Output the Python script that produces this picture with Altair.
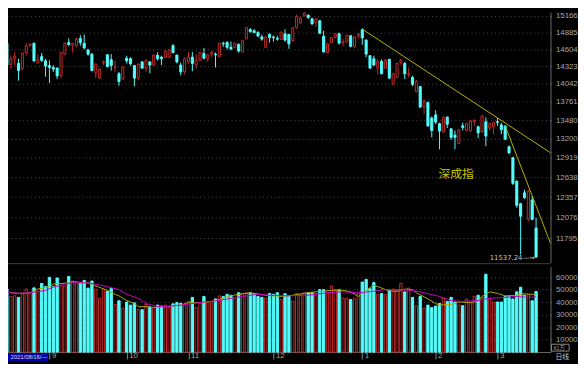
import altair as alt
import pandas as pd

# ---------------- data ----------------
opens = [14766,14703,14356,14447,14371,14285,14549,14662,14703,14381,14482,14412,14336,14306,14295,14171,14523,14713,14672,14662,
         14781,14703,14590,14523,14220,14135,14381,14512,14432,14306,14205,14120,14457,14447,14336,14135,14396,14295,14396,14345,
         14503,14472,14467,14472,14662,14508,14345,14235,14396,14472,14345,14421,14533,14447,14523,14523,14482,14703,14719,14636,
         14636,14682,14558,14776,14933,14912,14885,14807,14636,14849,14807,14781,14766,14860,14849,14744,14964,15043,15166,15177,
         15113,15054,15081,14818,14549,14713,14807,14860,14708,14729,14828,14642,14828,14928,14755,14497,14447,14295,14406,14295,
         14437,14036,14145,14386,14371,14195,14145,13922,14000,13680,13752,13512,13560,13427,13300,13526,13347,13252,13127,13393,
         13323,13323,13455,13379,13304,13455,13360,13379,13455,13407,13389,13081,12920,12580,12265,12417,12051,12317,11933]
highs = [14807,14744,14497,14558,14447,14558,14703,14703,14713,14518,14543,14447,14421,14345,14306,14558,14713,14786,14713,14797,
         14838,14849,14610,14538,14371,14295,14421,14523,14523,14421,14235,14330,14497,14472,14345,14371,14406,14437,14406,14518,
         14553,14497,14590,14610,14688,14512,14386,14472,14558,14558,14523,14558,14626,14523,14574,14549,14713,14729,14729,14729,
         14713,14703,14755,14975,14954,14938,14901,14849,14818,14870,14833,14828,14901,14938,14860,14975,15187,15150,15230,15187,
         15134,15123,15091,14912,14703,14807,14870,14880,14781,14849,14838,14818,14870,14954,14766,14508,14497,14437,14437,14447,
         14447,14220,14381,14447,14396,14295,14171,14105,14010,13800,13762,13536,13631,13441,13536,13536,13360,13323,13347,13441,
         13441,13488,13493,13393,13560,13522,13441,13455,13512,13441,13403,13099,12930,12593,12278,12461,12461,12373,12072]
lows = [14662,14306,14285,14345,14095,14255,14497,14642,14396,14371,14396,14156,14055,14235,14120,14135,14497,14651,14549,14642,
        14662,14600,14497,14245,14135,14120,14345,14306,14255,14235,14015,14105,14371,14336,14006,14105,14285,14235,14210,14336,
        14421,14345,14457,14457,14533,14371,14180,14195,14371,14245,14285,14406,14437,14396,14472,14306,14472,14642,14600,14600,
        14620,14549,14549,14766,14880,14870,14807,14744,14620,14713,14729,14744,14755,14729,14610,14729,14948,15027,15150,15113,
        15017,14980,14860,14549,14538,14703,14781,14682,14651,14713,14636,14626,14780,14677,14472,14290,14330,14195,14195,14280,
        14120,14020,14135,14345,14120,14145,14006,13907,13666,13570,13379,13220,13417,13044,13286,13360,13183,13044,13118,13323,
        13314,13300,13393,13206,13286,13090,13323,13267,13393,13267,13180,12972,12527,12209,11582,12330,12021,12038,11537.24]
closes = [14693,14345,14447,14488,14255,14538,14662,14688,14412,14432,14421,14330,14306,14280,14171,14549,14703,14682,14697,14771,
          14713,14626,14523,14255,14361,14280,14396,14320,14336,14315,14080,14315,14412,14366,14135,14356,14295,14421,14345,14508,
          14447,14447,14574,14595,14549,14396,14235,14447,14472,14371,14417,14549,14457,14508,14558,14512,14703,14693,14636,14605,
          14703,14574,14744,14964,14896,14880,14822,14771,14807,14797,14797,14771,14885,14755,14693,14964,15150,15123,15214,15134,
          15027,15113,14870,14558,14693,14797,14860,14703,14729,14833,14651,14807,14860,14792,14523,14295,14345,14406,14205,14417,
          14135,14205,14371,14421,14205,14205,14036,14085,13680,13776,13393,13323,13450,13314,13522,13417,13220,13220,13333,13370,
          13427,13465,13474,13286,13541,13239,13427,13441,13446,13333,13192,12990,12550,12243,12093,12352,12439,12051,11548]
volumes = [47037,50518,44593,45037,43852,47556,50518,47556,51481,48765,54938,52469,59877,52469,59383,52963,52963,60617,56914,56173,
           54938,57407,51259,56914,50518,43111,50000,48765,50988,38148,41111,35185,40123,37654,39383,33951,33951,38148,36173,35679,
           37654,36914,37654,35679,38642,39630,39136,37654,40617,43852,35679,39383,44593,40123,39383,42593,45037,44593,46296,45556,
           43852,47556,46790,47556,47556,46790,44593,43852,43358,47037,46296,47556,42099,46790,45037,40864,47037,46296,47556,47556,
           47556,47037,50000,50000,47556,52963,50000,50000,43333,43333,42099,43111,47037,56173,58148,50741,55679,46296,47037,46296,
           49259,50518,50000,54938,48272,51259,43852,37160,44593,35185,37654,35679,36914,38889,43111,40617,43852,40123,37654,37160,
           42593,40123,44593,45556,43852,62346,43111,40123,40123,40123,44593,44593,42593,48272,51975,45556,46296,41111,48519]

# volume moving-average lines (read at selected candles)
ma5_i = [0,2,5,7,9,12,13,17,18,22,24,27,29,30,32,34,35,37,39,42,46,48,52,54,56,58,61,64,68,72,
         75,80,83,85,88,90,92,94,96,98,100,102,104,106,107,110,112,113,116,118,121,123,124,126,128,130,133,135,136,138]
ma5_v = [48763,47528,46787,47528,50492,52466,54441,55430,56418,55430,52960,49503,46294,45059,41356,38887,36418,36418,35677,36418,
         37652,39627,39627,40615,42097,44566,46294,47528,45553,44566,45553,48022,48763,49503,49503,48269,44566,49503,53701,51231,
         48763,48763,50492,49997,47528,42590,38887,37652,38146,40121,39627,40615,44566,48269,47034,45059,45553,46787,46294,46294]
ma10_i = [0,2,5,7,11,13,16,18,22,24,27,30,32,35,37,40,42,46,49,52,56,59,63,66,69,74,79,84,88,92,
          96,99,102,106,109,113,116,119,123,126,130,133,136,138]
ma10_v = [48022,47528,47034,47528,49503,51972,54441,55677,55430,54441,52466,49997,46294,43084,38887,36418,36418,37652,38887,40121,
          41356,43084,45059,46294,45553,45059,45553,47528,48269,47528,48763,49997,49997,49503,47528,44566,41356,40615,41356,43084,
          43824,44566,43824,44319]

# trend lines (candle index, price)
trend_id = ["a", "a", "b", "b"]
trend_i = [93, 141.73, 130, 141.73]
trend_p = [14939, 12992, 13393, 11730]

price_ticks = [15166,14885,14604,14323,14042,13761,13480,13200,12919,12638,12357,12076,11795]
vol_ticks = [10000,20000,30000,40000,50000,60000]
month_pos = [12,32,48,70,93,112,128]
month_txt = ["9","10","11","12","1","2","3"]

# ---------------- chart ----------------
W, HP, HV = 558, 255, 87
CYAN = "#54fcfc"; RED = "#c42a2a"; BG = "#000000"
GRID = "#4a4a4a"; LABEL = "#a8a8a8"; AXIS = "#6a6a6a"

n = len(opens)
candles = pd.DataFrame({"i": list(range(n)), "open": opens, "high": highs,
                        "low": lows, "close": closes, "vol": volumes})
ma5 = pd.DataFrame({"i": ma5_i, "v": ma5_v})
ma10 = pd.DataFrame({"i": ma10_i, "v": ma10_v})
trend = pd.DataFrame({"id": trend_id, "i": trend_i, "p": trend_p})

xscale = alt.Scale(domain=[-0.254, 141.73], nice=False, zero=False)
pscale = alt.Scale(type="log", domain=[11475, 15230], nice=False, zero=False)
vscale = alt.Scale(domain=[0, 68500], nice=False, zero=False)
col_scale = alt.Scale(domain=["up", "down"], range=[RED, CYAN])
fill_scale = alt.Scale(domain=["up", "down"], range=[BG, CYAN])


def yaxis(values):
    return alt.Axis(orient="right", values=values, format="d", title=None,
                    grid=True, gridDash=[1, 3], gridColor=GRID, gridWidth=1,
                    ticks=True, tickDash=[1, 3], tickColor=GRID, tickSize=4,
                    labelPadding=1, labelColor=LABEL, labelFont="Liberation Sans",
                    labelFontSize=8, labelAlign="left", labelBaseline="middle",
                    labelOverlap=False, labelBound=False, labelFlush=False,
                    domain=True, domainColor=AXIS)


label_expr = "".join(f"datum.value=={p}?'{t}':" for p, t in zip(month_pos, month_txt)) + "''"
xaxis = alt.Axis(orient="bottom", values=month_pos, labelExpr=label_expr, title=None,
                 grid=False, ticks=True, tickSize=7, tickColor="#8a8a8a",
                 labelPadding=-7, labelAlign="left", labelBaseline="top", labelOffset=2,
                 labelColor=LABEL, labelFont="Liberation Sans", labelFontSize=8,
                 labelFlush=False, labelOverlap=False, domain=True, domainColor=AXIS)

PA = yaxis(price_ticks)
VA = yaxis(vol_ticks)

base = alt.Chart(candles).transform_calculate(
    dir="datum.close > datum.open ? 'up' : 'down'",
    x0="datum.i - 0.27", x1="datum.i + 0.27",
    v0="datum.i - 0.30", v1="datum.i + 0.30",
)

wicks = base.mark_rule(strokeWidth=1).encode(
    x=alt.X("i:Q", scale=xscale, axis=None),
    y=alt.Y("low:Q", scale=pscale, axis=PA), y2="high:Q",
    color=alt.Color("dir:N", scale=col_scale, legend=None),
)
bodies = base.mark_rect(strokeWidth=1).encode(
    x=alt.X("x0:Q", scale=xscale, axis=None), x2="x1:Q",
    y=alt.Y("open:Q", scale=pscale, axis=PA), y2="close:Q",
    fill=alt.Fill("dir:N", scale=fill_scale, legend=None),
    stroke=alt.Stroke("dir:N", scale=col_scale, legend=None),
)
lines = alt.Chart(trend).mark_line(color="#b4b400", strokeWidth=1).encode(
    x=alt.X("i:Q", scale=xscale, axis=None),
    y=alt.Y("p:Q", scale=pscale, axis=PA),
    detail="id:N",
)
name = alt.Chart(pd.DataFrame({"i": [117.3], "p": [12680], "t": ["深成指"]})).mark_text(
    font="Noto Sans CJK SC", fontSize=12, color="#c8c800", align="center", baseline="middle"
).encode(x=alt.X("i:Q", scale=xscale, axis=None), y=alt.Y("p:Q", scale=pscale, axis=PA), text="t:N")
lowlab = alt.Chart(pd.DataFrame({"i": [138], "p": [11537.24], "t": ["11537.24—→"]})).mark_text(
    font="DejaVu Sans", fontSize=7, color="#c8c8c8", align="right", baseline="middle", dx=-1
).encode(x=alt.X("i:Q", scale=xscale, axis=None), y=alt.Y("p:Q", scale=pscale, axis=PA), text="t:N")
sep = alt.Chart(pd.DataFrame({"a": [0]})).mark_rule(color="#3c3c3c", strokeWidth=1).encode(
    x=alt.value(0), x2=alt.value(W), y=alt.value(HP + 1))

price = alt.layer(wicks, bodies, lines, name, lowlab, sep).properties(width=W, height=HP)

vbars = base.mark_rect(strokeWidth=1).encode(
    x=alt.X("v0:Q", scale=xscale, axis=xaxis), x2="v1:Q",
    y=alt.Y("vol:Q", scale=vscale, axis=VA), y2=alt.datum(0),
    fill=alt.Fill("dir:N", scale=fill_scale, legend=None),
    stroke=alt.Stroke("dir:N", scale=col_scale, legend=None),
)
l5 = alt.Chart(ma5).mark_line(color="#a8a800", strokeWidth=1).encode(
    x=alt.X("i:Q", scale=xscale, axis=xaxis), y=alt.Y("v:Q", scale=vscale, axis=VA))
l10 = alt.Chart(ma10).mark_line(color="#c800c8", strokeWidth=1).encode(
    x=alt.X("i:Q", scale=xscale, axis=xaxis), y=alt.Y("v:Q", scale=vscale, axis=VA))

one = pd.DataFrame({"a": [0]})
datebox = alt.Chart(one).mark_rect(color="#0000a8").encode(
    x=alt.value(0), x2=alt.value(47), y=alt.value(HV + 1), y2=alt.value(HV + 9))
datetxt = alt.Chart(pd.DataFrame({"t": ["2021/08/16/—"]})).mark_text(
    font="Liberation Sans", fontSize=6, color="#dcdcdc", align="left", baseline="middle"
).encode(x=alt.value(8.5), y=alt.value(HV + 5), text="t:N")
unitbox = alt.Chart(one).mark_rect(fill=BG, stroke="#8a8a8a", strokeWidth=1).encode(
    x=alt.value(W + 1), x2=alt.value(W + 19), y=alt.value(HV - 8), y2=alt.value(HV - 1))
unittxt = alt.Chart(pd.DataFrame({"t": ["X1万"]})).mark_text(
    font="Noto Sans CJK SC", fontSize=5.5, color="#a8a8a8", align="left", baseline="middle"
).encode(x=alt.value(W + 3), y=alt.value(HV - 4.5), text="t:N")
daytxt = alt.Chart(pd.DataFrame({"t": ["日线"]})).mark_text(
    font="Noto Sans CJK SC", fontSize=7, color="#c8c8c8", align="left", baseline="middle"
).encode(x=alt.value(W + 5), y=alt.value(HV + 5.5), text="t:N")

volume = alt.layer(vbars, l5, l10, datebox, datetxt, unitbox, unittxt, daytxt).properties(width=W, height=HV)

chart = alt.vconcat(price, volume, spacing=2).properties(
    background=BG, padding={"left": -8, "top": 0, "right": 0, "bottom": 0}
).configure_view(stroke=None)

chart.save("out.html", embed_options={"renderer": "svg", "actions": False})
